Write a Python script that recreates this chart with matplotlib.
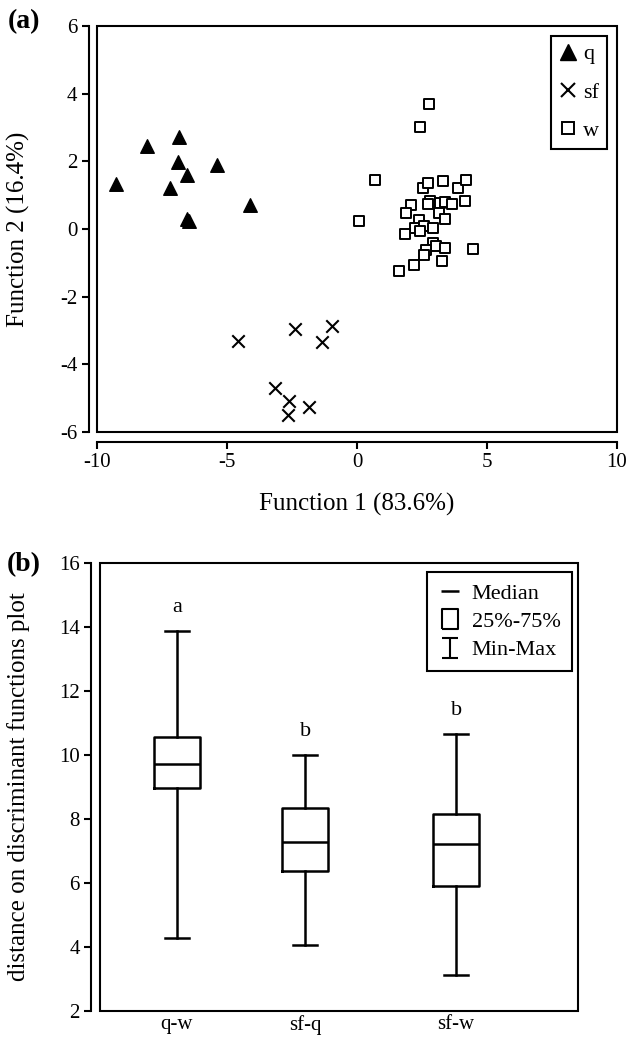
import matplotlib
matplotlib.use("Agg")
from matplotlib import pyplot as plt
from matplotlib.patches import Rectangle
from matplotlib.lines import Line2D
from matplotlib.path import Path

plt.rcParams['font.family'] = ['Liberation Serif', 'DejaVu Serif']
plt.rcParams['axes.unicode_minus'] = False

# (a) discriminant function scores
q_x = [-9.27, -8.07, -6.84, -6.87, -7.21, -6.52, -5.40, -4.12, -6.55, -6.48]
q_y = [1.34, 2.45, 2.72, 1.97, 1.21, 1.61, 1.90, 0.72, 0.30, 0.24]

sf_x = [-4.58, -2.38, -0.98, -1.36, -3.14, -2.62, -2.65, -1.83]
sf_y = [-3.32, -2.97, -2.87, -3.35, -4.70, -5.08, -5.49, -5.27]

w_x = [2.76, 2.41, 0.70, 0.09, 2.55, 2.74, 3.31, 3.87, 4.20, 2.09, 1.90, 2.80,
       2.74, 3.19, 3.37, 3.65, 4.15, 3.16, 3.37, 2.38, 2.23, 2.57, 2.41, 2.91,
       1.84, 2.91, 3.02, 2.65, 2.57, 3.37, 4.47, 2.18, 3.27, 1.63]
w_y = [3.70, 3.02, 1.45, 0.23, 1.21, 1.36, 1.42, 1.21, 1.46, 0.72, 0.47, 0.84,
       0.74, 0.76, 0.79, 0.74, 0.82, 0.48, 0.30, 0.28, 0.02, 0.08, -0.05, 0.02,
       -0.15, -0.41, -0.49, -0.63, -0.76, -0.56, -0.59, -1.07, -0.94, -1.25]

# (b) distances on discriminant functions plot
pairs = ['q-w', 'sf-q', 'sf-w']
d_min = [4.27, 4.05, 3.14]
d_q1 = [8.98, 6.38, 5.92]
d_med = [9.73, 7.29, 7.21]
d_q3 = [10.56, 8.33, 8.16]
d_max = [13.86, 10.00, 10.65]
letters = ['a', 'b', 'b']
letter_y = [14.61, 10.74, 11.40]

W, H = 630, 1037
fig = plt.figure(figsize=(W / 100, H / 100), dpi=100)

fs = 15      # tick labels
fs_lab = 18  # axis titles
fs_leg = 16
lw = 1.5


def px_axes(left, top, right, bottom):
    return fig.add_axes([left / W, 1 - bottom / H, (right - left) / W, (bottom - top) / H])


def add_frame(ax):
    ax.add_patch(Rectangle((0, 0), 1, 1, transform=ax.transAxes, fill=False,
                           edgecolor='black', linewidth=lw, clip_on=False, zorder=5))


# ---- panel a ----
ax1 = px_axes(97, 26, 617, 432)
ax1.scatter(q_x, q_y, marker='^', s=95, color='black', zorder=3)
ax1.scatter(sf_x, sf_y, marker='x', s=80, color='black', linewidths=1.5, zorder=3)
ax1.scatter(w_x, w_y, marker='s', s=50, facecolors='white', edgecolors='black',
            linewidths=1.4, zorder=3)
ax1.set_xlim(-10, 10)
ax1.set_ylim(-6, 6)
ax1.set_xticks(range(-10, 11, 5))
ax1.set_yticks(range(-6, 7, 2))
for s in ['top', 'right']:
    ax1.spines[s].set_visible(False)
ax1.spines['left'].set_position(('outward', 6))
ax1.spines['bottom'].set_position(('outward', 7))
for s in ['left', 'bottom']:
    ax1.spines[s].set_linewidth(lw)
ax1.tick_params(direction='out', length=5, width=lw, labelsize=fs, pad=3)
add_frame(ax1)
ax1.set_xlabel('Function 1 (83.6%)', fontsize=fs_lab)
ax1.set_ylabel('Function 2 (16.4%)', fontsize=fs_lab)
ax1.xaxis.set_label_coords(0.5, -0.150)
ax1.yaxis.set_label_coords(-0.129, 0.5)

h_a = [Line2D([], [], ls='none', marker='^', color='black', markersize=11),
       Line2D([], [], ls='none', marker='x', color='black', markersize=10, mew=1.5),
       Line2D([], [], ls='none', marker='s', mfc='white', mec='black', markersize=8, mew=1.4)]
leg1 = ax1.legend(h_a, ['q', 'sf', 'w'], loc='upper right', bbox_to_anchor=(0.981, 0.975),
                  borderaxespad=0, fancybox=False, edgecolor='black', framealpha=1,
                  fontsize=fs_leg, handlelength=0.8, handletextpad=0.3, labelspacing=0.8,
                  borderpad=0.35)
leg1.get_frame().set_linewidth(lw)
leg1.set_zorder(6)

# ---- panel b ----
ax2 = px_axes(100, 563, 578, 1011)
positions = [0.161, 0.429, 0.745]
stats = []
for i in range(len(pairs)):
    stats.append({'med': d_med[i], 'q1': d_q1[i], 'q3': d_q3[i],
                  'whislo': d_min[i], 'whishi': d_max[i], 'label': pairs[i]})
line_kw = {'color': 'black', 'linewidth': 1.8}
ax2.bxp(stats, positions=positions, widths=0.095, capwidths=0.05, showfliers=False,
        boxprops=line_kw, medianprops=line_kw, whiskerprops=line_kw, capprops=line_kw)
for p, t, y in zip(positions, letters, letter_y):
    ax2.text(p, y, t, ha='center', va='center', fontsize=fs_leg)
ax2.set_xlim(0, 1)
ax2.set_ylim(2, 16)
ax2.set_yticks(range(2, 17, 2))
ax2.set_xticks(positions)
ax2.set_xticklabels(pairs)
for s in ['top', 'right', 'bottom']:
    ax2.spines[s].set_visible(False)
ax2.spines['left'].set_position(('outward', 6.5))
ax2.spines['left'].set_linewidth(lw)
ax2.tick_params(axis='y', direction='out', length=5, width=lw, labelsize=fs, pad=3)
ax2.tick_params(axis='x', length=0, labelsize=fs, pad=3)
add_frame(ax2)
ax2.set_ylabel('distance on discriminant functions plot', fontsize=fs_lab)
ax2.yaxis.set_label_coords(-0.146, 0.5)

box_marker = Path([(-0.4, -0.5), (0.4, -0.5), (0.4, 0.5), (-0.4, 0.5), (-0.4, -0.5)])
ibeam = Path([(-0.4, -0.5), (0.4, -0.5), (0, -0.5), (0, 0.5), (-0.4, 0.5), (0.4, 0.5)],
             [Path.MOVETO, Path.LINETO, Path.MOVETO, Path.LINETO, Path.MOVETO, Path.LINETO])
h_b = [Line2D([], [], ls='none', marker='_', color='black', markersize=13, mew=1.8),
       Line2D([], [], ls='none', marker=box_marker, mfc='none', mec='black', markersize=15, mew=1.5),
       Line2D([], [], ls='none', marker=ibeam, mfc='none', mec='black', markersize=15, mew=1.5)]
leg2 = ax2.legend(h_b, ['Median', '25%-75%', 'Min-Max'], loc='upper right',
                  bbox_to_anchor=(0.987, 0.980), borderaxespad=0, fancybox=False,
                  edgecolor='black', framealpha=1, fontsize=fs_leg, handlelength=1.0,
                  handletextpad=0.5, labelspacing=0.35, borderpad=0.5)
leg2.get_frame().set_linewidth(lw)
leg2.set_zorder(6)

fig.text(8 / W, 1 - 22 / H, '(a)', fontsize=20, fontweight='bold', ha='left', va='center')
fig.text(7 / W, 1 - 565 / H, '(b)', fontsize=20, fontweight='bold', ha='left', va='center')

fig.savefig('out.png', dpi=100)
